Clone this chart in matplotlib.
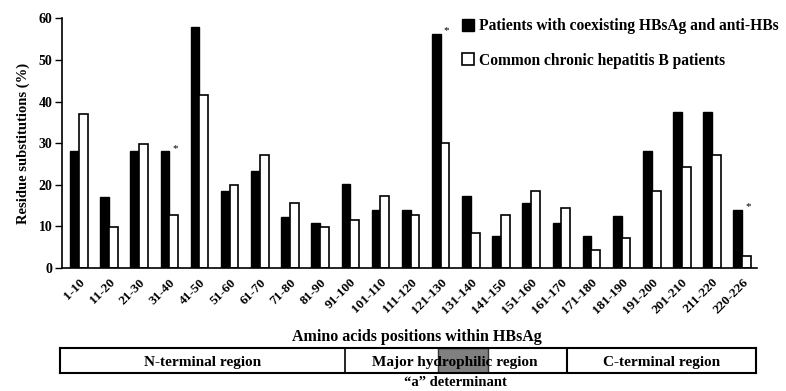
import matplotlib
matplotlib.use("Agg")
import matplotlib.pyplot as plt
from matplotlib.patches import Rectangle
import numpy as np

categories = ["1-10", "11-20", "21-30", "31-40", "41-50", "51-60", "61-70", "71-80",
              "81-90", "91-100", "101-110", "111-120", "121-130", "131-140", "141-150",
              "151-160", "161-170", "171-180", "181-190", "191-200", "201-210",
              "211-220", "220-226"]
coexisting = [28.0, 17.1, 28.0, 28.0, 57.8, 18.6, 23.3, 12.3, 10.9, 20.2, 14.0, 14.0,
              56.2, 17.2, 7.7, 15.6, 10.9, 7.7, 12.4, 28.1, 37.4, 37.4, 14.0]
common = [37.1, 9.9, 29.9, 12.8, 41.5, 20.0, 27.1, 15.7, 9.9, 11.5, 17.2, 12.8,
          30.0, 8.5, 12.8, 18.6, 14.4, 4.3, 7.1, 18.6, 24.3, 27.2, 2.8]
significant = ["31-40", "121-130", "220-226"]
yticks = [0, 10, 20, 30, 40, 50, 60]
series_labels = ["Patients with coexisting HBsAg and anti-HBs",
                 "Common chronic hepatitis B patients"]
xlabel = "Amino acids positions within HBsAg"
ylabel = "Residue substitutions (%)"
regions = ["N-terminal region", "Major hydrophilic region", "C-terminal region"]
a_det_label = "\u201ca\u201d determinant"

SERIF = ["Liberation Serif", "DejaVu Serif"]
plt.rcParams["font.family"] = SERIF
plt.rcParams["font.weight"] = "bold"

W, H = 786, 391
fig = plt.figure(figsize=(W / 100, H / 100), dpi=100)

def fx(px):
    return px / W

def fy(py):
    return 1 - py / H

ax = fig.add_axes([fx(62), fy(268), fx(757) - fx(62), fy(18.3) - fy(268)])
x = np.arange(len(categories))
bw = 0.29
ax.bar(x - bw / 2, coexisting, bw, color="black", edgecolor="black", linewidth=1,
       label=series_labels[0])
ax.bar(x + bw / 2, common, bw, color="white", edgecolor="black", linewidth=1.2,
       label=series_labels[1])
ax.set_xlim(-0.56, 22.49)
ax.set_ylim(0, 60)
ax.set_yticks(yticks)
ax.set_yticklabels([str(t) for t in yticks], fontsize=10, fontweight="bold")
ax.set_xticks(x)
ax.set_xticklabels(categories, rotation=45, ha="right", va="top", fontsize=9.5,
                   fontweight="bold", rotation_mode="anchor")
ax.tick_params(axis="x", length=0, pad=6)
ax.tick_params(axis="y", length=5, width=1, direction="out", pad=2)
for s in ["top", "right"]:
    ax.spines[s].set_visible(False)
ax.spines["left"].set_linewidth(1.2)
ax.spines["bottom"].set_linewidth(1.2)
ax.set_ylabel(ylabel, fontsize=10.5, fontweight="bold", labelpad=6)

for cat in significant:
    i = categories.index(cat)
    ax.annotate("*", (x[i] + 0.1, coexisting[i]), xytext=(0, -1), textcoords="offset points",
                ha="left", va="bottom", fontsize=8, fontweight="normal")

leg = ax.legend(loc="upper left", bbox_to_anchor=(0.566, 1.026), frameon=False,
                fontsize=11.2, handlelength=0.8, handleheight=0.8, handletextpad=0.3,
                labelspacing=1.2, borderaxespad=0)
for t in leg.get_texts():
    t.set_fontweight("bold")

fig.text(fx(417), fy(337), xlabel, ha="center", va="center", fontsize=11.5,
         fontweight="bold")

# Region box
box = fig.add_axes([fx(60), fy(372.7), fx(756) - fx(60), fy(348.3) - fy(372.7)])
box.set_xlim(60, 756)
box.set_ylim(0, 1)
box.set_xticks([])
box.set_yticks([])
for s in box.spines.values():
    s.set_linewidth(1.5)
box.add_patch(Rectangle((438.3, 0), 487.7 - 438.3, 1, facecolor="#808080",
                        edgecolor="#333333", linewidth=1))
box.axvline(345, color="black", linewidth=1.2)
box.axvline(566.7, color="black", linewidth=1.5)
centers = [202.5, 455, 661.5]
for c, r in zip(centers, regions):
    box.text(c, 0.42, r, ha="center", va="center", fontsize=11, fontweight="bold")

fig.text(fx(455), fy(382), a_det_label, ha="center", va="center", fontsize=10.5,
         fontweight="bold")

fig.savefig("out.png", dpi=100)
